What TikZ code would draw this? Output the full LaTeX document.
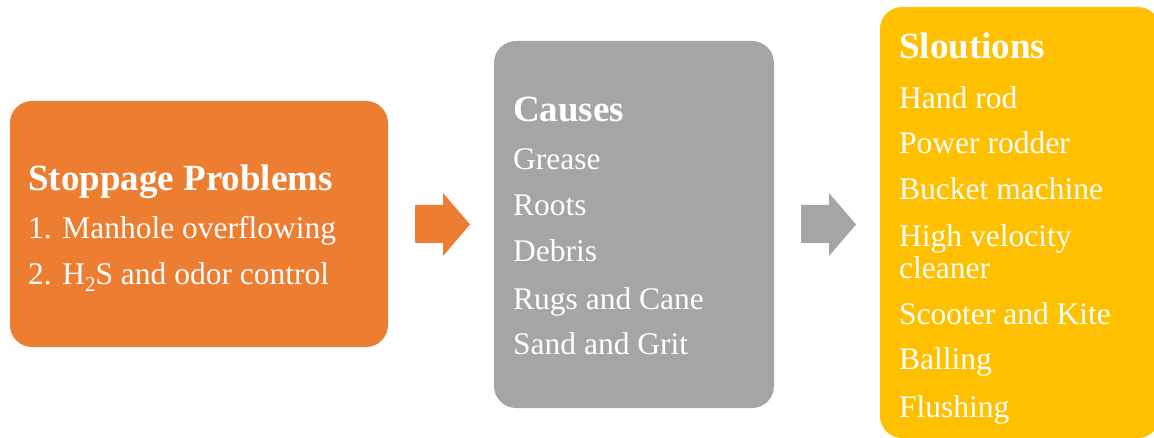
\documentclass[tikz,border=0pt]{standalone}
\usepackage{fontspec}
\setmainfont{Liberation Serif}
\definecolor{orng}{HTML}{ED7D31}
\definecolor{gry}{HTML}{A5A5A5}
\definecolor{ylw}{HTML}{FFC000}
\tikzset{
  panel/.style={rounded corners=22pt, draw=none},
  head/.style={anchor=base west, inner sep=0pt, text=white, font=\fontsize{37}{40}\selectfont\bfseries},
  item/.style={anchor=base west, inner sep=0pt, text=white, font=\fontsize{31.5}{32}\selectfont},
  blockarrow/.style={draw=none}
}
\newcommand{\subtwo}{\raisebox{-0.22em}{\fontsize{21}{21}\selectfont 2}}
\begin{document}
\begin{tikzpicture}[x=1pt,y=-1pt]
\useasboundingbox (0,0) rectangle (1154,438);
\clip (0,0) rectangle (1154,438);
\fill[white] (0,0) rectangle (1154,438);
% panels
\fill[orng, panel] (10,101) rectangle (388,347);
\fill[gry, panel] (494,41) rectangle (774,408);
\fill[ylw, panel] (880,7) rectangle (1160,438);
\node[coordinate] (p1) at (199,224) {};
\node[coordinate] (p2) at (634,224) {};
\node[coordinate] (p3) at (1017,224) {};
% arrows
\fill[orng, blockarrow] (415,205) -- (443,205) -- (443,193) -- (470,224.5) -- (443,256) -- (443,243) -- (415,243) -- cycle;
\fill[gry, blockarrow] (801,205) -- (829,205) -- (829,193) -- (856,224.5) -- (829,256) -- (829,243) -- (801,243) -- cycle;
% orange text
\node[head] (t1) at (28,191) {Stoppage Problems};
\node[item] (a1) at (28,239) {1. Manhole overflowing};
\node[item] (a2) at (28,285) {2. H\subtwo S and odor control};
% gray text
\node[head] (t2) at (513,122) {Causes};
\node[item] (b1) at (513,170) {Grease};
\node[item] (b2) at (513,216) {Roots};
\node[item] (b3) at (513,262) {Debris};
\node[item] (b4) at (513,309) {Rugs and Cane};
\node[item] (b5) at (513,355) {Sand and Grit};
% yellow text
\node[head] (t3) at (899,59) {Sloutions};
\node[item] (c1) at (899,109) {Hand rod};
\node[item] (c2) at (899,154) {Power rodder};
\node[item] (c3) at (899,200) {Bucket machine};
\node[item] (c4) at (899,247) {High velocity};
\node[item] (c4b) at (899,279) {cleaner};
\node[item] (c5) at (899,325) {Scooter and Kite};
\node[item] (c6) at (899,370) {Balling};
\node[item] (c7) at (899,417) {Flushing};
\end{tikzpicture}
\end{document}
